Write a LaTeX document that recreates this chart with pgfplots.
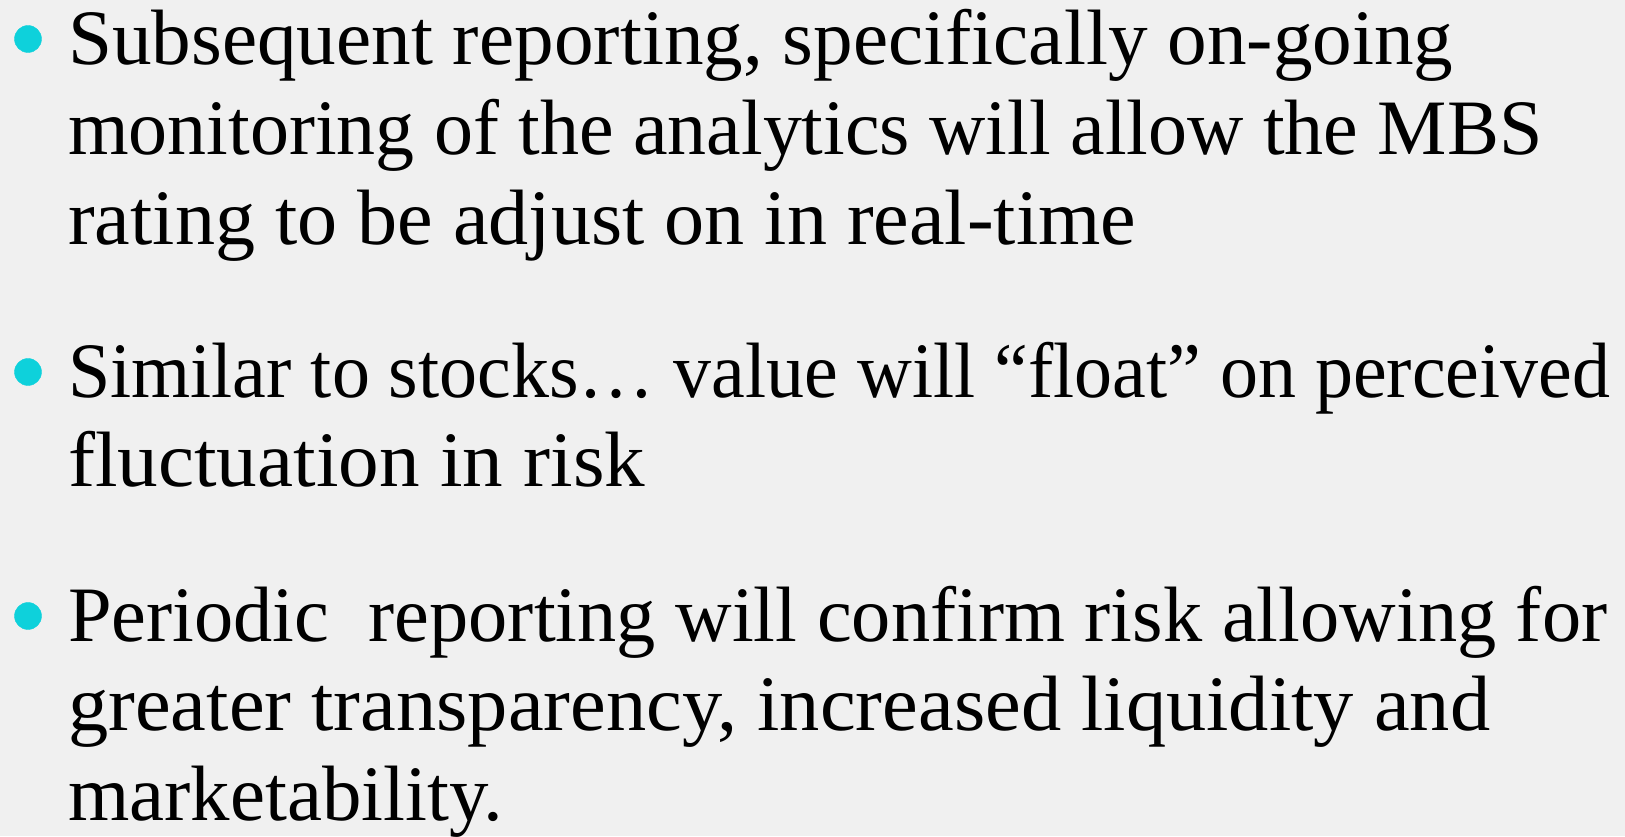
\documentclass[border=0pt]{standalone}
\usepackage{graphicx}
\usepackage{fontspec}
\setmainfont{Liberation Serif}
\usepackage{pgfplots}
\pgfplotsset{compat=1.18}
\definecolor{bgcol}{HTML}{F0F0F0}
\definecolor{bulletcol}{HTML}{0ED1DB}
\newlength\fitw
\newcommand\fitline[2]{\settowidth\fitw{#2}\scalebox{\fpeval{#1/\fitw}}[1]{#2}}
\tikzset{txt/.style={anchor=base west, inner sep=0pt, font=\fontsize{78.5}{90}\selectfont}}
\begin{document}
\begin{tikzpicture}
\begin{axis}[
  width=1625pt, height=836pt, scale only axis,
  xmin=0, xmax=1625, ymin=0, ymax=836,
  axis lines=none, ticks=none,
  axis background/.style={fill=bgcol},
  clip=false,
]
\addplot[only marks, mark=*, mark size=13.5pt, color=bulletcol, draw=bulletcol]
  coordinates {(28,797) (28,464) (28,220)};
\node[txt] at (axis cs:68,771) {\fitline{1385}{Subsequent reporting, specifically on-going}};
\node[txt] at (axis cs:68,681) {\fitline{1474}{monitoring of the analytics will allow the MBS}};
\node[txt] at (axis cs:68,591) {\fitline{1068}{rating to be adjust on in real-time}};
\node[txt] at (axis cs:68,438) {\fitline{1542}{Similar to stocks… value will “float” on perceived}};
\node[txt] at (axis cs:68,349) {\fitline{577}{fluctuation in risk}};
\node[txt] at (axis cs:68,194) {\fitline{1539}{Periodic\ \ reporting will confirm risk allowing for}};
\node[txt] at (axis cs:68,106) {\fitline{1422}{greater transparency, increased liquidity and}};
\node[txt] at (axis cs:68,16) {\fitline{435}{marketability.}};
\end{axis}
\pgfresetboundingbox
\path (current axis.south west) rectangle (current axis.north east);
\end{tikzpicture}
\end{document}
